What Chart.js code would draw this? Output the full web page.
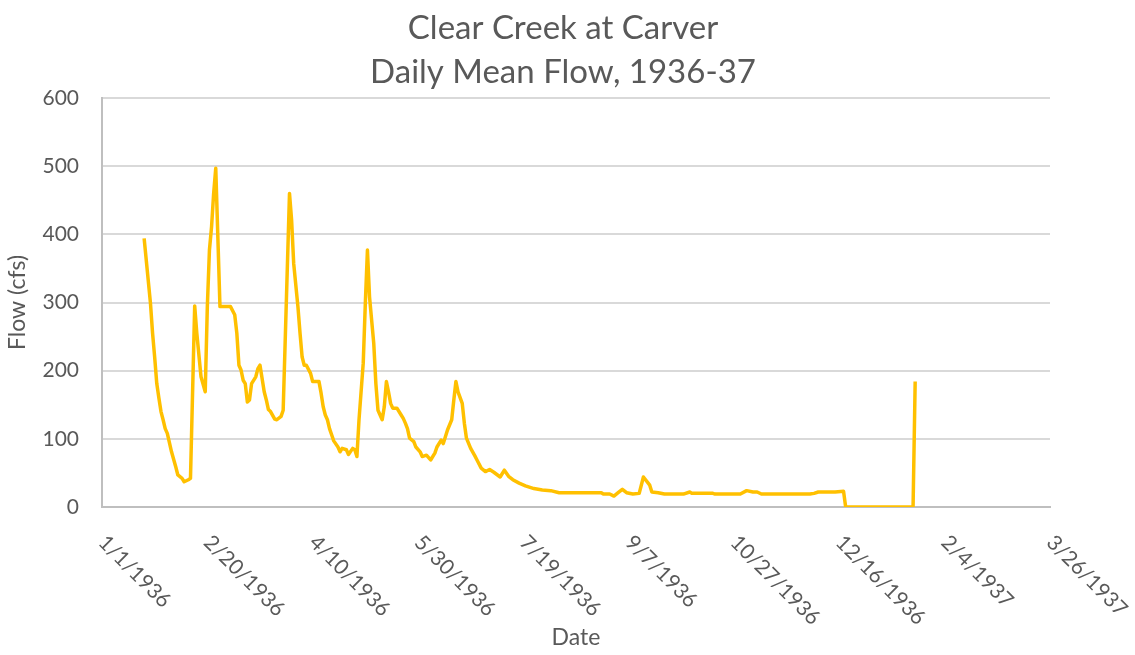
<!DOCTYPE html>
<html>
<head>
<meta charset="utf-8">
<script src="https://cdn.jsdelivr.net/npm/chart.js@4.4.0/dist/chart.umd.min.js"></script>
<style>
  body { margin: 0; background: #fff; }
</style>
</head>
<body>
<canvas id="flowChart" width="1135" height="655"></canvas>
<script>
const ctx = document.getElementById("flowChart");

// days counted from 1/1/1936 (day 0)
const flowDays = [
  20, 23, 24, 25, 26, 27, 28, 29, 30, 31, 33, 35, 36, 38, 39, 41, 42, 44, 45, 47,
  49, 50, 51, 52, 53, 54, 56, 61, 63, 64, 65, 66, 67, 68, 69, 70, 71, 73, 74, 75,
  77, 78, 79, 80, 82, 83, 85, 86, 89, 90, 91, 93, 94, 95, 96, 97, 99, 100, 103, 104,
  105, 106, 107, 108, 109, 110, 112, 113, 114, 116, 117, 119, 120, 121, 122, 124, 125, 126, 127, 129,
  130, 131, 133, 134, 135, 136, 137, 138, 140, 142, 143, 144, 145, 146, 148, 149, 151, 152, 154, 156,
  158, 159, 161, 162, 164, 166, 167, 168, 169, 171, 172, 173, 175, 177, 178, 180, 182, 184, 186, 189,
  191, 193, 195, 198, 201, 205, 209, 213, 217, 237, 238, 241, 243, 245, 247, 249, 252, 255, 257, 260,
  261, 264, 267, 276, 279, 280, 290, 291, 303, 306, 309, 311, 313, 336, 338, 340, 348, 352, 353, 385,
  386,
];
const flowCfs = [
  394, 299, 255, 220, 181, 160, 140, 128, 115, 108, 81, 59, 47, 42, 37, 40, 42, 295, 255, 191,
  169, 294, 377, 411, 460, 497, 294, 294, 282, 255, 208, 201, 186, 181, 154, 157, 181, 191, 203, 208,
  169, 157, 143, 140, 129, 128, 133, 142, 460, 421, 357, 294, 255, 220, 208, 208, 196, 184, 184, 167,
  147, 135, 128, 115, 106, 97, 88, 81, 86, 84, 77, 86, 84, 74, 128, 211, 299, 377, 308, 240,
  181, 142, 128, 147, 184, 169, 152, 145, 145, 135, 130, 123, 115, 101, 96, 88, 81, 74, 76, 69,
  79, 88, 98, 93, 113, 128, 157, 184, 169, 152, 123, 101, 86, 75, 69, 57, 52, 55, 51, 44,
  54, 45, 40, 35, 31, 27, 25, 24, 21, 21, 19, 19, 16, 21, 26, 21, 19, 20, 44, 32,
  22, 21, 19, 19, 22, 20, 20, 19, 19, 24, 22, 22, 19, 19, 20, 22, 22, 23, 0, 0,
  184,
];

const xTickDays = [0, 50, 100, 150, 200, 250, 300, 350, 400, 450];
const xTickLabels = [
  "1/1/1936", "2/20/1936", "4/10/1936", "5/30/1936", "7/19/1936",
  "9/7/1936", "10/27/1936", "12/16/1936", "2/4/1937", "3/26/1937",
];
const titleLines = ["Clear Creek at Carver", "Daily Mean Flow, 1936-37"];

const TEXT_COLOR = "#595959";
const FONT = "Lato";

Chart.defaults.font.family = FONT;
Chart.defaults.color = TEXT_COLOR;

// title and the slanted date labels are drawn by hand
// (Chart.js can only slant x labels the other way)
const extraText = {
  id: "extraText",
  afterDraw(chart) {
    const c = chart.ctx;
    const xs = chart.scales.x;
    c.save();
    c.fillStyle = TEXT_COLOR;
    c.textBaseline = "middle";

    c.font = "33px " + FONT;
    c.textAlign = "center";
    c.fillText(titleLines[0], 563, 28);
    c.fillText(titleLines[1], 563, 72);

    c.font = "21px " + FONT;
    c.textAlign = "left";
    xTickDays.forEach((d, i) => {
      c.save();
      c.translate(xs.getPixelForValue(d), xs.top + 32);
      c.rotate(Math.PI / 4);
      c.fillText(xTickLabels[i], 0, 0);
      c.restore();
    });
    c.restore();
  },
};

const flowChart = new Chart(ctx, {
  type: "line",
  data: {
    datasets: [
      {
        label: "Flow",
        data: flowDays.map((d, i) => ({ x: d, y: flowCfs[i] })),
        borderColor: "#FFC000",
        borderWidth: 3.5,
        pointRadius: 0,
        tension: 0,
        borderJoinStyle: "round",
      },
    ],
  },
  options: {
    responsive: false,
    animation: false,
    layout: {
      padding: { top: 98, right: 85, bottom: 0, left: 0 },
    },
    plugins: {
      legend: { display: false },
      tooltip: { enabled: false },
    },
    scales: {
      x: {
        type: "linear",
        min: 0,
        max: 450,
        ticks: { display: false, stepSize: 50 },
        grid: { display: false },
        border: { display: true, color: "#bfbfbf", width: 2 },
        title: {
          display: true,
          text: "Date",
          font: { size: 23 },
          padding: { top: 0, bottom: 4 },
        },
        afterFit(scale) {
          scale.height = 148;
        },
      },
      y: {
        min: 0,
        max: 600,
        ticks: { stepSize: 100, padding: 23, font: { size: 21 } },
        grid: { color: "#d9d9d9", lineWidth: 2, drawTicks: false },
        border: { display: true, color: "#bfbfbf", width: 2 },
        title: {
          display: true,
          text: "Flow (cfs)",
          font: { size: 23 },
          padding: { top: 4, bottom: 0 },
        },
        afterFit(scale) {
          scale.width = 102;
        },
      },
    },
  },
  plugins: [extraText],
});
</script>
</body>
</html>
